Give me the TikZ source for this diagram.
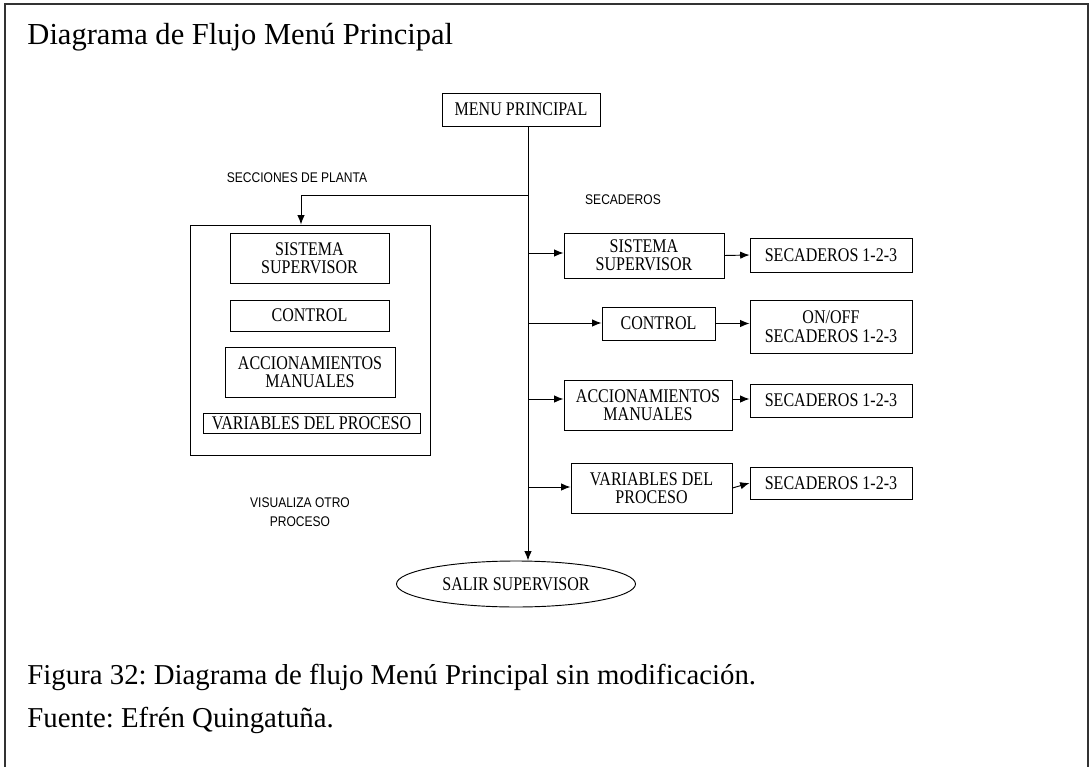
\documentclass[tikz,border=0pt]{standalone}
\usepackage{fontspec}
\setmainfont{Liberation Serif}
\newfontfamily\boxfont[FakeStretch=0.83]{Liberation Serif}
\newfontfamily\lblfont[FakeStretch=0.86]{Liberation Sans}
\usetikzlibrary{shapes.geometric,arrows.meta}
\tikzset{
	>={Latex[length=7pt,width=5.5pt]},
}
\tikzstyle{blk}=[draw,inner sep=0pt,align=center,font=\boxfont\fontsize{14.5}{13.8}\selectfont]
\tikzstyle{lbl}=[inner sep=0pt,align=center,font=\lblfont\fontsize{10.5}{14.25}\selectfont]
\tikzstyle{capt}=[anchor=base west,inner sep=0pt,font=\fontsize{21.6}{24}\selectfont]
\frenchspacing

\begin{document}
\begin{tikzpicture}[x=0.75pt,y=-0.75pt,line width=0.7pt]
      \useasboundingbox (0,0) rectangle (1092,767);
      \draw[line width=1.1pt,black!80] (5,767)--(5,4)--(1088,4)--(1088,767);
      \node[anchor=base west,inner sep=0pt,font=\fontsize{22.9}{26}\selectfont] (title) at (27,45) {Diagrama de Flujo Menú Principal};
      % menu principal
      \node[blk,minimum width=118.5pt,minimum height=24.75pt] (menu) at (521,109.5) {MENU PRINCIPAL};
      \node[ellipse,blk,minimum width=179.25pt,minimum height=34.5pt] (ell) at (516,584) {SALIR SUPERVISOR};
      % secciones de planta
      \node[blk,minimum width=180pt,minimum height=172.5pt] (lbox) at (310,340) {};
      \node[blk,minimum width=119.25pt,minimum height=37.5pt] (lss) at (309.5,258) {SISTEMA\\SUPERVISOR};
      \node[blk,minimum width=119.25pt,minimum height=23.25pt] (lctrl) at (309.5,315.5) {CONTROL};
      \node[blk,minimum width=127.5pt,minimum height=37.5pt] (lacc) at (310,372) {ACCIONAMIENTOS\\MANUALES};
      \node[blk,minimum width=162.75pt,minimum height=15pt] (lvar) at (311.5,423) {VARIABLES DEL PROCESO};
      % secaderos
      \node[blk,minimum width=120pt,minimum height=33.75pt] (rss) at (644,255.5) {SISTEMA\\SUPERVISOR};
      \node[blk,minimum width=84.75pt,minimum height=24.75pt] (rctrl) at (658.5,323.5) {CONTROL};
      \node[blk,minimum width=126pt,minimum height=37.5pt] (racc) at (648,405) {ACCIONAMIENTOS\\MANUALES};
      \node[blk,minimum width=120.75pt,minimum height=37.5pt] (rvar) at (651.5,488) {VARIABLES DEL\\PROCESO};
      \node[blk,minimum width=121.5pt,minimum height=25.5pt] (rsec1) at (831,255) {SECADEROS 1-2-3};
      \node[blk,minimum width=121.5pt,minimum height=39.75pt] (ronoff) at (831,326.5) {ON/OFF\\SECADEROS 1-2-3};
      \node[blk,minimum width=121.5pt,minimum height=24.75pt] (rsec3) at (831,400.5) {SECADEROS 1-2-3};
      \node[blk,minimum width=121.5pt,minimum height=24pt] (rsec4) at (831,483) {SECADEROS 1-2-3};
      % etiquetas
      \node[lbl] (secc) at (297,178) {SECCIONES DE PLANTA};
      \node[lbl] (secad) at (623,200) {SECADEROS};
      \node[lbl] (visu) at (300,512) {VISUALIZA OTRO\\PROCESO};
      % conexiones
      \coordinate (j0) at ([xshift=5.25pt]menu.south);
      \coordinate (jl) at (528,195);
      \coordinate (lc) at (301,195);
      \coordinate (j1) at (528,253);
      \coordinate (j2) at (528,323);
      \coordinate (j3) at (528,399);
      \coordinate (j4) at (528,487);
      \draw[->] (j0)--(j0 |- ell.north);
      \draw[->] (jl)--(lc)--(lc |- lbox.north);
      \draw[->] (j1)--(j1 -| rss.west);
      \draw[->] (j2)--(j2 -| rctrl.west);
      \draw[->] (j3)--(j3 -| racc.west);
      \draw[->] (j4)--(j4 -| rvar.west);
      \draw[->] (rss.east)--(rsec1.west);
      \draw[->] (rctrl.east)--(rctrl.east -| ronoff.west);
      \draw[->] (j3 -| racc.east)--(j3 -| rsec3.west);
      \draw[->] (rvar.east)--(rsec4.west);
      % pie
      \node[capt] (fig) at (27,684) {Figura 32: Diagrama de flujo Menú Principal sin modificación.};
      \node[capt] (fte) at (27,727) {Fuente: Efrén Quingatuña.};
    \end{tikzpicture}
\end{document}
